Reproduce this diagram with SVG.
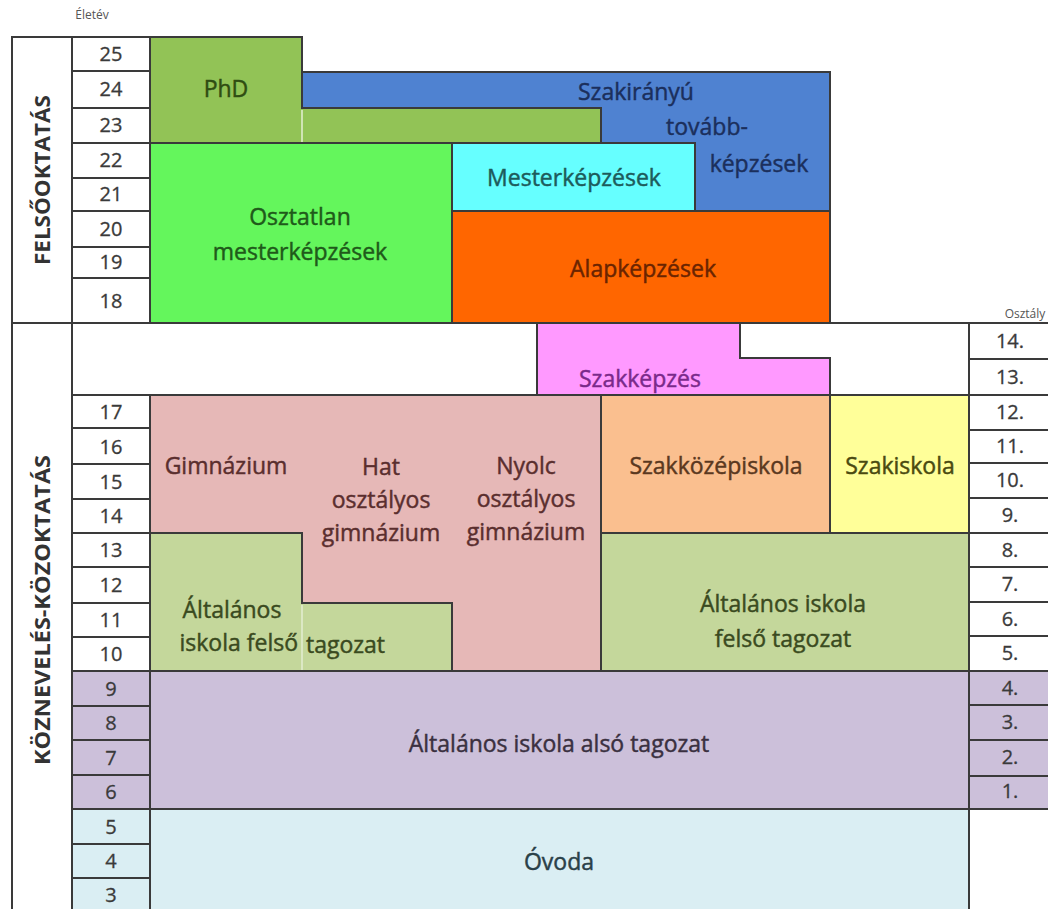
<svg xmlns="http://www.w3.org/2000/svg" width="1048" height="909" viewBox="0 0 1048 909">
<style>
.ln{stroke:#3a3a3a;stroke-width:2;fill:none}
.bx{stroke:#3a3a3a;stroke-width:2}
.lbl{font-family:"Open Sans","DejaVu Sans",sans-serif;font-size:23px;text-anchor:middle;stroke-width:0.45}
.num{font-family:"Open Sans","DejaVu Sans",sans-serif;font-size:20px;fill:#3a3a3a;stroke:#3a3a3a;stroke-width:0.3;text-anchor:middle}
.side{font-family:"Open Sans","DejaVu Sans",sans-serif;font-size:21px;font-weight:bold;fill:#333;text-anchor:middle}
.small{font-family:"Open Sans","DejaVu Sans",sans-serif;fill:#555;text-anchor:middle}
</style>
<rect x="0" y="0" width="1048" height="909" fill="#ffffff"/>

<!-- frame / axis -->
<g id="frame">
  <line class="ln" x1="12" y1="37" x2="150" y2="37"/>
  <line class="ln" x1="12" y1="36" x2="12" y2="912"/>
  <line class="ln" x1="72" y1="37" x2="72" y2="912"/>
  <line class="ln" x1="12" y1="323" x2="1048" y2="323"/>
  <line class="ln" x1="969" y1="323" x2="969" y2="912"/>
  <text class="small" x="92" y="19" font-size="12">Életév</text>
  <text class="small" x="1025" y="318" font-size="12">Osztály</text>
  <text class="side" transform="translate(50,180) rotate(-90)" textLength="170" lengthAdjust="spacingAndGlyphs">FELSŐOKTATÁS</text>
  <text class="side" transform="translate(50,610) rotate(-90)" textLength="310" lengthAdjust="spacingAndGlyphs">KÖZNEVELÉS-KÖZOKTATÁS</text>
</g>

<!-- age column -->
<g id="ages">
  <rect class="bx" x="72" y="37" width="78" height="34" fill="#fff"/>
  <rect class="bx" x="72" y="71" width="78" height="37" fill="#fff"/>
  <rect class="bx" x="72" y="108" width="78" height="35" fill="#fff"/>
  <rect class="bx" x="72" y="143" width="78" height="35" fill="#fff"/>
  <rect class="bx" x="72" y="178" width="78" height="33" fill="#fff"/>
  <rect class="bx" x="72" y="211" width="78" height="36" fill="#fff"/>
  <rect class="bx" x="72" y="247" width="78" height="31" fill="#fff"/>
  <rect class="bx" x="72" y="278" width="78" height="45" fill="#fff"/>
  <text class="num" x="111" y="61">25</text>
  <text class="num" x="111" y="96">24</text>
  <text class="num" x="111" y="132">23</text>
  <text class="num" x="111" y="167">22</text>
  <text class="num" x="111" y="201">21</text>
  <text class="num" x="111" y="236">20</text>
  <text class="num" x="111" y="269">19</text>
  <text class="num" x="111" y="308">18</text>

  <rect class="bx" x="72" y="395" width="78" height="33" fill="#fff"/>
  <rect class="bx" x="72" y="428" width="78" height="36" fill="#fff"/>
  <rect class="bx" x="72" y="464" width="78" height="35" fill="#fff"/>
  <rect class="bx" x="72" y="499" width="78" height="34" fill="#fff"/>
  <rect class="bx" x="72" y="533" width="78" height="34" fill="#fff"/>
  <rect class="bx" x="72" y="567" width="78" height="36" fill="#fff"/>
  <rect class="bx" x="72" y="603" width="78" height="34" fill="#fff"/>
  <rect class="bx" x="72" y="637" width="78" height="34" fill="#fff"/>
  <rect class="bx" x="72" y="671" width="78" height="35" fill="#CCC0DA"/>
  <rect class="bx" x="72" y="706" width="78" height="34" fill="#CCC0DA"/>
  <rect class="bx" x="72" y="740" width="78" height="35" fill="#CCC0DA"/>
  <rect class="bx" x="72" y="775" width="78" height="34" fill="#CCC0DA"/>
  <rect class="bx" x="72" y="809" width="78" height="35" fill="#DAEEF3"/>
  <rect class="bx" x="72" y="844" width="78" height="34" fill="#DAEEF3"/>
  <rect class="bx" x="72" y="878" width="78" height="36" fill="#DAEEF3"/>
  <text class="num" x="111" y="419">17</text>
  <text class="num" x="111" y="454">16</text>
  <text class="num" x="111" y="489">15</text>
  <text class="num" x="111" y="523">14</text>
  <text class="num" x="111" y="557">13</text>
  <text class="num" x="111" y="592">12</text>
  <text class="num" x="111" y="627">11</text>
  <text class="num" x="111" y="661">10</text>
  <text class="num" x="111" y="696">9</text>
  <text class="num" x="111" y="730">8</text>
  <text class="num" x="111" y="765">7</text>
  <text class="num" x="111" y="799">6</text>
  <text class="num" x="111" y="834">5</text>
  <text class="num" x="111" y="868">4</text>
  <text class="num" x="111" y="902">3</text>
</g>

<!-- class column -->
<g id="classes">
  <rect class="bx" x="969" y="323" width="82" height="36" fill="#fff"/>
  <rect class="bx" x="969" y="359" width="82" height="36" fill="#fff"/>
  <rect class="bx" x="969" y="395" width="82" height="35" fill="#fff"/>
  <rect class="bx" x="969" y="430" width="82" height="33" fill="#fff"/>
  <rect class="bx" x="969" y="463" width="82" height="35" fill="#fff"/>
  <rect class="bx" x="969" y="498" width="82" height="35" fill="#fff"/>
  <rect class="bx" x="969" y="533" width="82" height="34" fill="#fff"/>
  <rect class="bx" x="969" y="567" width="82" height="35" fill="#fff"/>
  <rect class="bx" x="969" y="602" width="82" height="34" fill="#fff"/>
  <rect class="bx" x="969" y="636" width="82" height="35" fill="#fff"/>
  <rect class="bx" x="969" y="671" width="82" height="34" fill="#CCC0DA"/>
  <rect class="bx" x="969" y="705" width="82" height="35" fill="#CCC0DA"/>
  <rect class="bx" x="969" y="740" width="82" height="36" fill="#CCC0DA"/>
  <rect class="bx" x="969" y="776" width="82" height="33" fill="#CCC0DA"/>
  <text class="num" x="1010" y="348">14.</text>
  <text class="num" x="1010" y="384">13.</text>
  <text class="num" x="1010" y="419">12.</text>
  <text class="num" x="1010" y="453">11.</text>
  <text class="num" x="1010" y="487">10.</text>
  <text class="num" x="1010" y="522">9.</text>
  <text class="num" x="1010" y="557">8.</text>
  <text class="num" x="1010" y="591">7.</text>
  <text class="num" x="1010" y="626">6.</text>
  <text class="num" x="1010" y="660">5.</text>
  <text class="num" x="1010" y="695">4.</text>
  <text class="num" x="1010" y="729">3.</text>
  <text class="num" x="1010" y="764">2.</text>
  <text class="num" x="1010" y="798">1.</text>
</g>

<!-- higher education -->
<g id="phd">
  <path class="bx" d="M150,37 H302 V108 H601 V143 H150 Z" fill="#92C356"/>
  <line x1="302" y1="110" x2="302" y2="142" stroke="#e4efd4" stroke-width="1.5"/>
  <text class="lbl" x="226" y="97" fill="#2f4d12" stroke="#2f4d12">PhD</text>
</g>
<g id="szakiranyu">
  <path class="bx" d="M302,72 H830 V211 H695 V143 H601 V108 H302 Z" fill="#4F82D1"/>
  <g fill="#1b2f5c" stroke="#1b2f5c">
    <text class="lbl" x="636" y="100">Szakirányú</text>
    <text class="lbl" x="707" y="135">tovább-</text>
    <text class="lbl" x="759" y="172">képzések</text>
  </g>
</g>
<g id="osztatlan">
  <rect class="bx" x="150" y="143" width="302" height="180" fill="#64F65C"/>
  <g fill="#1f5a1a" stroke="#1f5a1a">
    <text class="lbl" x="300" y="225">Osztatlan</text>
    <text class="lbl" x="300" y="260">mesterképzések</text>
  </g>
</g>
<g id="mesterkepzesek">
  <rect class="bx" x="452" y="143" width="243" height="68" fill="#66FFFF"/>
  <text class="lbl" x="574" y="186" fill="#1d5b5b" stroke="#1d5b5b" font-size="24">Mesterképzések</text>
</g>
<g id="alapkepzesek">
  <rect class="bx" x="452" y="211" width="378" height="112" fill="#FF6600"/>
  <text class="lbl" x="643" y="277" fill="#6a2400" stroke="#6a2400">Alapképzések</text>
</g>

<!-- public education -->
<g id="szakkepzes">
  <path class="bx" d="M537,323 H740 V358 H830 V395 H537 Z" fill="#FF99FF"/>
  <text class="lbl" x="640" y="387" fill="#7a2a8a" stroke="#7a2a8a">Szakképzés</text>
</g>
<g id="gimnazium">
  <path class="bx" d="M150,395 H601 V671 H452 V603 H302 V533 H150 Z" fill="#E6B8B7"/>
  <g fill="#5a2e2e" stroke="#5a2e2e">
    <text class="lbl" x="226" y="474">Gimnázium</text>
    <text class="lbl" x="381" y="475">Hat</text>
    <text class="lbl" x="381" y="508">osztályos</text>
    <text class="lbl" x="381" y="541">gimnázium</text>
    <text class="lbl" x="526" y="474">Nyolc</text>
    <text class="lbl" x="526" y="507">osztályos</text>
    <text class="lbl" x="526" y="540">gimnázium</text>
  </g>
</g>
<g id="szakkozepiskola">
  <rect class="bx" x="601" y="395" width="229" height="138" fill="#FABF8F"/>
  <text class="lbl" x="716" y="474" fill="#5a3820" stroke="#5a3820">Szakközépiskola</text>
</g>
<g id="szakiskola">
  <rect class="bx" x="830" y="395" width="139" height="138" fill="#FFFF99"/>
  <text class="lbl" x="900" y="474" fill="#4a4a10" stroke="#4a4a10">Szakiskola</text>
</g>
<g id="altalanos-felso-bal">
  <path class="bx" d="M150,533 H302 V603 H452 V671 H150 Z" fill="#C4D79B"/>
  <line x1="302" y1="605" x2="302" y2="670" stroke="#e4eed2" stroke-width="1.5"/>
  <g fill="#3a4a20" stroke="#3a4a20">
    <text class="lbl" x="232" y="618">Általános</text>
    <text class="lbl" x="298" y="651" font-size="22" style="text-anchor:end">iskola felső</text>
    <text class="lbl" x="306" y="653" font-size="22" style="text-anchor:start">tagozat</text>
  </g>
</g>
<g id="altalanos-felso-jobb">
  <rect class="bx" x="601" y="533" width="368" height="138" fill="#C4D79B"/>
  <g fill="#3a4a20" stroke="#3a4a20">
    <text class="lbl" x="783" y="612">Általános iskola</text>
    <text class="lbl" x="783" y="647">felső tagozat</text>
  </g>
</g>
<g id="altalanos-also">
  <rect class="bx" x="150" y="671" width="819" height="138" fill="#CCC0DA"/>
  <text class="lbl" x="559" y="752" fill="#3a3040" stroke="#3a3040">Általános iskola alsó tagozat</text>
</g>
<g id="ovoda">
  <rect class="bx" x="150" y="809" width="819" height="105" fill="#DAEEF3"/>
  <text class="lbl" x="559" y="870" fill="#2a4048" stroke="#2a4048">Óvoda</text>
</g>
<g id="connectors"/>
</svg>
